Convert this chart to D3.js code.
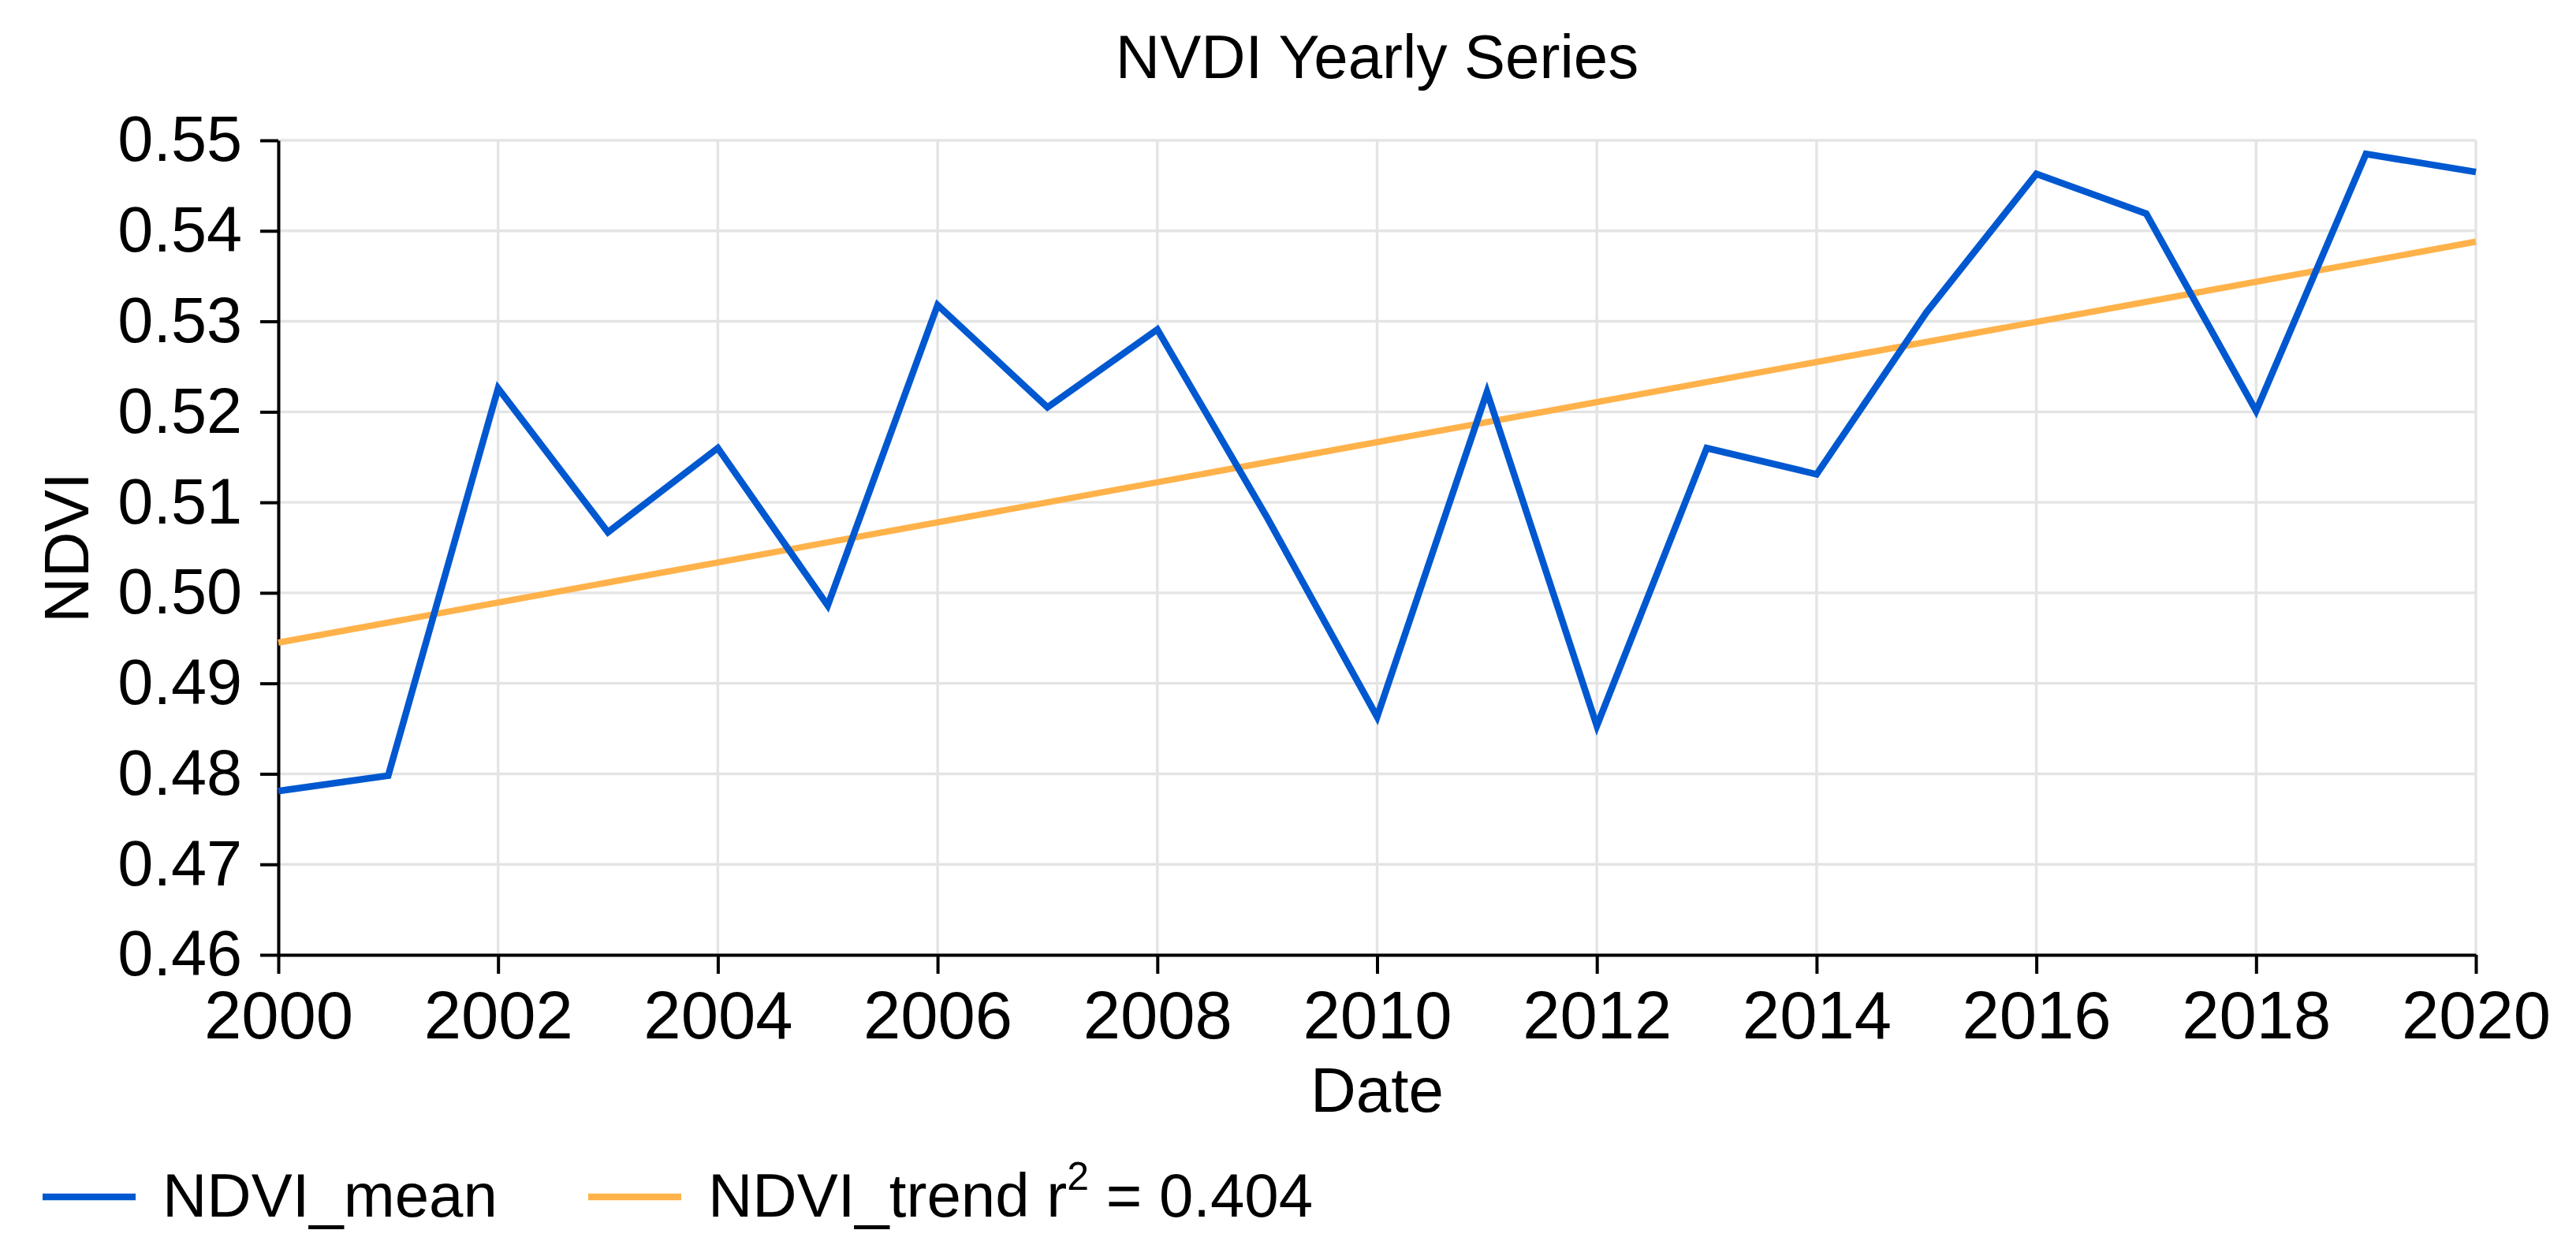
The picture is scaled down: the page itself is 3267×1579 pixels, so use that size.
<!DOCTYPE html>
<html>
<head>
<meta charset="utf-8">
<script src="https://cdn.jsdelivr.net/npm/d3@7"></script>
<style>
  body { margin: 0; background: #fff; }
  text { font-family: "Liberation Sans", Arial, sans-serif; fill: #000; }
</style>
</head>
<body>
<script>
// values
var years = [2000, 2001, 2002, 2003, 2004, 2005, 2006, 2007, 2008, 2009, 2010,
             2011, 2012, 2013, 2014, 2015, 2016, 2017, 2018, 2019, 2020];
var ndviMean = [0.4781, 0.4798, 0.5226, 0.5067, 0.5160, 0.4986, 0.5318, 0.5205, 0.5291, 0.5083, 0.4863,
                0.5222, 0.4853, 0.5160, 0.5131, 0.5310, 0.5463, 0.5419, 0.5201, 0.5485, 0.5465];
var trendYears = [2000, 2020];
var trendValues = [0.4945, 0.5388];
var xTicks = [2000, 2002, 2004, 2006, 2008, 2010, 2012, 2014, 2016, 2018, 2020];
var yTicks = [0.46, 0.47, 0.48, 0.49, 0.50, 0.51, 0.52, 0.53, 0.54, 0.55];
var legendLabels = ["NDVI_mean", "NDVI_trend r"];
var colors = ["#0058d0", "#ffb24a"];

var width = 3267, height = 1579;
var margin = {top: 178, right: 127, bottom: 368, left: 353};
var fs = 78;

var svg = d3.select("body").append("svg")
            .attr("width", width)
            .attr("height", height);

var x = d3.scaleLinear().domain([2000, 2020]).range([margin.left, width - margin.right]);
var y = d3.scaleLinear().domain([0.46, 0.55]).range([height - margin.bottom, margin.top]);

// grid
svg.append("g").selectAll("line")
    .data(yTicks)
    .enter().append("line")
    .attr("x1", x(2000)).attr("x2", x(2020))
    .attr("y1", function(d) { return y(d); })
    .attr("y2", function(d) { return y(d); })
    .attr("stroke", "#e4e4e4").attr("stroke-width", 3.4);

svg.append("g").selectAll("line")
    .data(xTicks)
    .enter().append("line")
    .attr("y1", y(0.46)).attr("y2", y(0.55))
    .attr("x1", function(d) { return x(d); })
    .attr("x2", function(d) { return x(d); })
    .attr("stroke", "#e4e4e4").attr("stroke-width", 3.4);

// axes
var yAxis = svg.append("g")
    .attr("transform", "translate(" + margin.left + ",0)")
    .call(d3.axisLeft(y).tickValues(yTicks).tickFormat(d3.format(".2f"))
            .tickSize(23).tickSizeOuter(0).tickPadding(23));

var xAxis = svg.append("g")
    .attr("transform", "translate(0," + (height - margin.bottom) + ")")
    .call(d3.axisBottom(x).tickValues(xTicks).tickFormat(d3.format("d"))
            .tickSize(24).tickSizeOuter(0).tickPadding(22));

[xAxis, yAxis].forEach(function(a) {
  a.selectAll("path, line").attr("stroke", "#000").attr("stroke-width", 4);
  a.selectAll("text").attr("font-family", null).attr("fill", "#000");
});
yAxis.selectAll("text").attr("font-size", 81);
xAxis.selectAll("text").attr("font-size", 85);

// lines
var line = d3.line()
    .x(function(d) { return x(d[0]); })
    .y(function(d) { return y(d[1]); });

svg.append("path")
    .datum(d3.zip(trendYears, trendValues))
    .attr("d", line)
    .attr("fill", "none")
    .attr("stroke", colors[1])
    .attr("stroke-width", 8);

svg.append("path")
    .datum(d3.zip(years, ndviMean))
    .attr("d", line)
    .attr("fill", "none")
    .attr("stroke", colors[0])
    .attr("stroke-width", 8.5)
    .attr("stroke-linejoin", "miter");

// titles
svg.append("text")
    .attr("x", (x(2000) + x(2020)) / 2).attr("y", 99)
    .attr("text-anchor", "middle").attr("font-size", fs)
    .text("NVDI Yearly Series");

svg.append("text")
    .attr("x", (x(2000) + x(2020)) / 2).attr("y", 1410)
    .attr("text-anchor", "middle").attr("font-size", 80)
    .text("Date");

svg.append("text")
    .attr("transform", "translate(112," + ((y(0.46) + y(0.55)) / 2) + ") rotate(-90)")
    .attr("text-anchor", "middle").attr("font-size", 80)
    .text("NDVI");

// legend
var legendX = [54, 746];
var legend = svg.selectAll(".legend")
    .data(legendLabels)
    .enter().append("g")
    .attr("class", "legend")
    .attr("transform", function(d, i) { return "translate(" + legendX[i] + ",0)"; });

legend.append("line")
    .attr("x1", 0).attr("x2", 118)
    .attr("y1", 1518).attr("y2", 1518)
    .attr("stroke", function(d, i) { return colors[i]; })
    .attr("stroke-width", 8.5);

var lt = legend.append("text")
    .attr("x", 152).attr("y", 1543)
    .attr("font-size", fs)
    .text(function(d) { return d; });

lt.filter(function(d, i) { return i === 1; })
    .append("tspan").attr("font-size", 50).attr("dy", -34).text("2");
lt.filter(function(d, i) { return i === 1; })
    .append("tspan").attr("dy", 34).text(" = 0.404");
</script>
</body>
</html>
